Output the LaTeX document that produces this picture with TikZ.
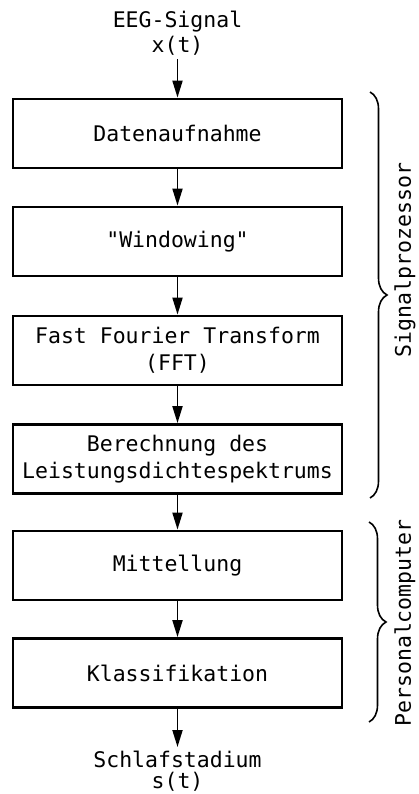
\documentclass[tikz,border=0pt]{standalone}
\usepackage{fontspec}
\setmonofont{DejaVu Sans Mono}
\usetikzlibrary{arrows.meta,decorations.pathreplacing}
\tikzset{
  stufe/.style={draw, line width=2.8pt, minimum width=329pt, minimum height=69pt, align=center, inner sep=0pt},
  pfeil/.style={line width=1.9pt, -{Triangle[length=17pt,width=10pt]}},
  klammer/.style={decorate, decoration={brace, amplitude=17pt}, line width=1.6pt},
}
\begin{document}
\begin{tikzpicture}[x=1pt,y=-1pt, font=\ttfamily\fontsize{21.5}{27}\selectfont]
\useasboundingbox (0,0) rectangle (418,794);

% Eingang
\node[anchor=base] (eeg) at (177.5,28) {EEG-Signal};
\node[anchor=base] (xt) at (177.5,53) {x(t)};

% Verarbeitungsstufen
\node[stufe] (aufnahme) at (177.5,133.5) {Datenaufnahme};
\node[stufe] (window) at (177.5,241.5) {"Windowing"};
\node[stufe] (fft) at (177.5,350.5) {Fast Fourier Transform\\(FFT)};
\node[stufe] (spektrum) at (177.5,459) {Berechnung des\\Leistungsdichtespektrums};
\node[stufe] (mittel) at (177.5,565.5) {Mittellung};
\node[stufe] (klass) at (177.5,673) {Klassifikation};

% Ausgang
\node[anchor=base] (schlaf) at (177.5,767) {Schlafstadium};
\node[anchor=base] (st) at (177.5,788) {s(t)};

% Pfeile
\draw[pfeil] (xt) -- (aufnahme);
\draw[pfeil] (aufnahme) -- (window);
\draw[pfeil] (window) -- (fft);
\draw[pfeil] (fft) -- (spektrum);
\draw[pfeil] (spektrum) -- (mittel);
\draw[pfeil] (mittel) -- (klass);
\draw[pfeil] (klass) -- (schlaf);

% Klammern
\coordinate (sp-oben) at (370,92);
\coordinate (sp-unten) at (370,498);
\coordinate (pc-oben) at (369,522);
\coordinate (pc-unten) at (369,722);
\draw[klammer] (sp-oben) -- (sp-unten);
\draw[klammer] (pc-oben) -- (pc-unten);
\node[rotate=90] (sp) at (405,260) {Signalprozessor};
\node[rotate=90] (pc) at (405,623) {Personalcomputer};
\end{tikzpicture}
\end{document}
